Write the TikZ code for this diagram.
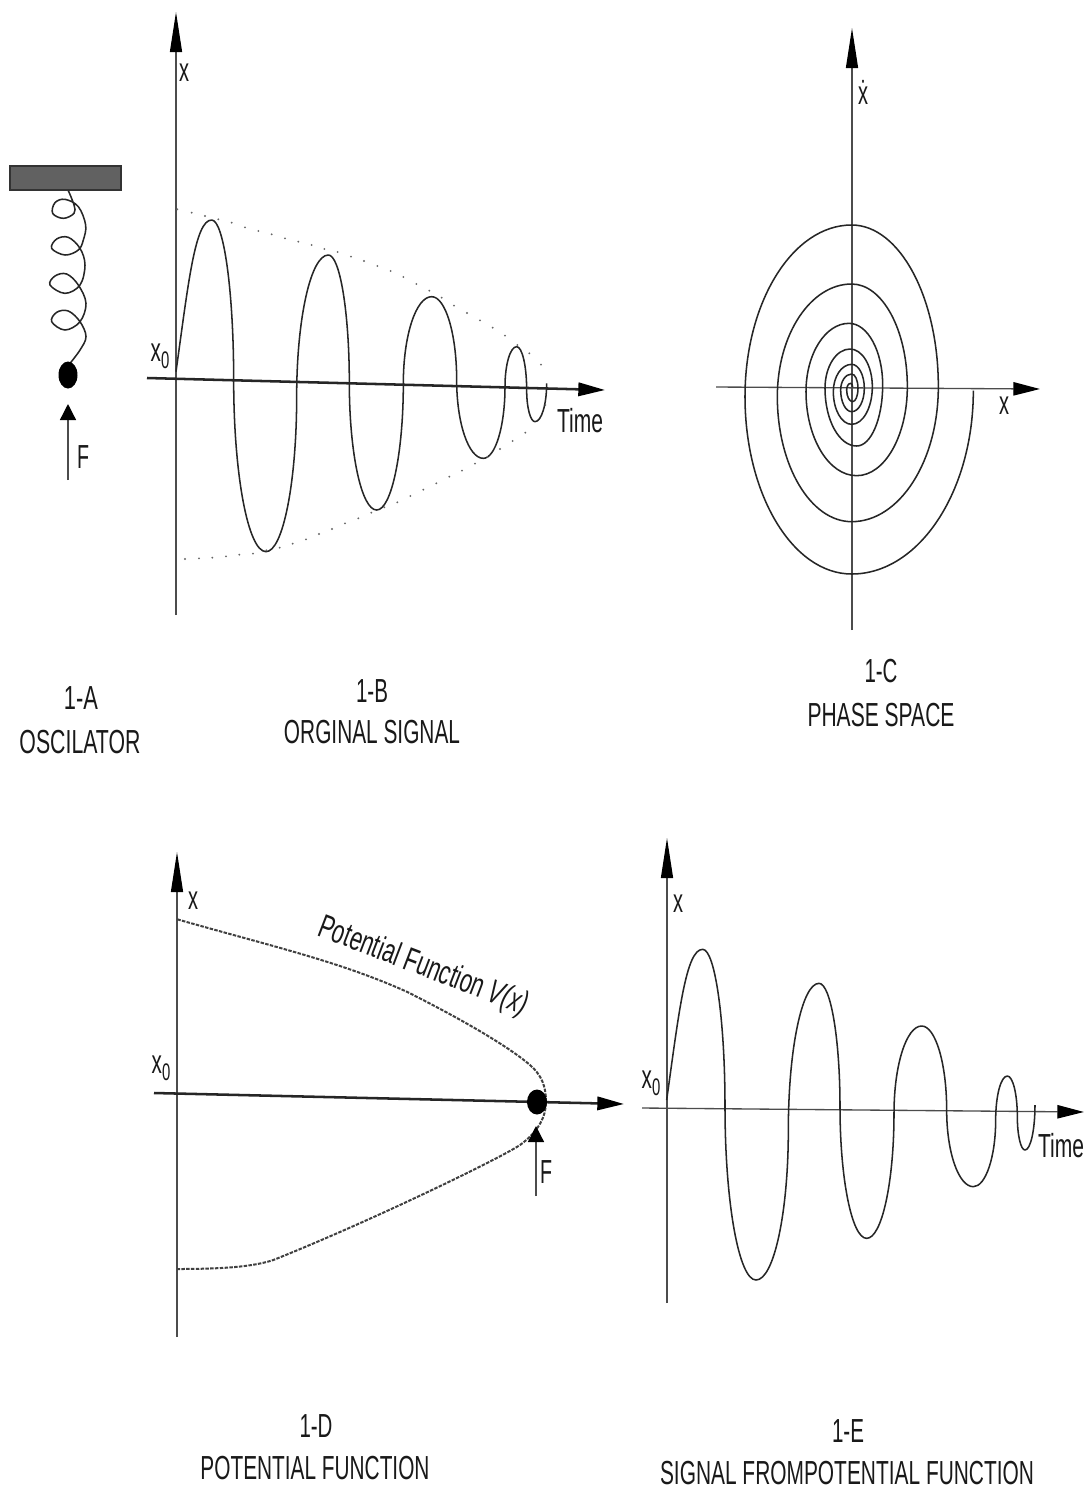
\documentclass[tikz,border=0pt]{standalone}
\usepackage{graphicx}
\usepackage{fontspec}
\setmainfont{Liberation Sans}
\usetikzlibrary{arrows.meta}
\newcommand\fitw[2]{\resizebox{\dimexpr#1pt*3/4\relax}{\height}{#2}}
\newcommand\xzero{\scalebox{.62}[1]{x}\raisebox{-5.5pt}{\fontsize{18}{18}\selectfont\scalebox{.62}[1]{0}}}
\newcommand\qa[4]{arc[start angle=#1,delta angle=#2,x radius=#3,y radius=#4]}
\tikzset{
  lbl/.style={inner sep=0pt,font=\fontsize{25}{25}\selectfont,text=black!90},
  curvepath/.style={draw=black!85,line width=1.15pt,line join=round},
  thinaxis/.style={draw=black!70,line width=1.0pt},
  thickaxis/.style={draw=black!85,line width=1.9pt},
  tipv/.style={-{Triangle[length=30pt,width=9pt,black]}},
  tiph/.style={-{Triangle[length=20pt,width=10pt,black]}},
  tipf/.style={-{Triangle[length=12pt,width=12pt,black]}},
  potcurve/.style={draw=black!75,line width=1.5pt,dash pattern=on 2.6pt off 1pt},
  envdot/.style={fill=black!60},
  ball/.style={fill=black,draw=none},
  zoomed/.style={x=.25pt,y=-.25pt}
}
\begin{document}
\begin{tikzpicture}[x=.75pt,y=-.75pt]
\useasboundingbox (0,0) rectangle (1091,1490);
\fill[white] (0,0) rectangle (1091,1490);

% ---- 1-A oscillator
\fill[black!62,draw=black!80,line width=.9pt] (10,166) rectangle (121,190);
\begin{scope}[shift={(0,150)},zoomed]
\draw[curvepath] plot[smooth,tension=.6] coordinates {(205,122)(222,165)(222,190)(190,205)(158,190)(165,158)(195,148)(235,170)(257,225)(250,270)(235,300)(195,315)(155,295)(170,267)(205,262)(240,295)(255,345)(240,405)(195,430)(150,405)(165,378)(200,372)(235,405)(258,460)(240,515)(195,540)(155,515)(170,487)(205,483)(240,515)(258,560)(240,600)(210,640)};
\end{scope}
\fill[ball] (68,375) ellipse (9.5 and 13.5);
\coordinate (fa1) at (68,480); \coordinate (fa2) at (68,404);
\draw[thinaxis,tipf] (fa1) -- (fa2);
\node[lbl] (fA) at (83,457) {\fitw{12}{F}};

% ---- 1-B signal
\coordinate (by1) at (176,615); \coordinate (by2) at (176,12);
\draw[thinaxis,tipv] (by1) -- (by2);
\coordinate (bx1) at (147,378); \coordinate (bx2) at (605,390);
\draw[thickaxis,tiph] (bx1) -- (bx2);
\begin{scope}[shift={(140,190)},zoomed]
\draw[curvepath] (108,545) .. controls (145,280) and (165,90) .. (215,90)
 \qa{270}{90}{66}{480} \qa{180}{-90}{97}{515} \qa{90}{-90}{92}{465} \qa{180}{90}{95}{425}
 \qa{270}{90}{63}{385} \qa{180}{-90}{82}{380} \qa{90}{-90}{80}{380} \qa{180}{90}{85}{260}
 \qa{270}{90}{75}{250} \qa{180}{-90}{80}{235} \qa{90}{-90}{65}{215} \qa{180}{90}{35}{120}
 \qa{270}{90}{30}{130} \qa{180}{-90}{25}{95} \qa{90}{-90}{35}{115};
\foreach \p in {(112,58),(155,68),(195,78),(235,88),(275,98),(315,112),(355,123),(395,133),(435,145),(475,155),(515,165),(553,177),(593,186),(633,200),(672,213),(712,228),(752,243),(790,261),(829,282),(868,302),(905,323),(942,347),(981,369),(1020,391),(1058,413),(1095,437),(1132,465),(1168,490),(1203,524),(135,1107),(177,1105),(217,1103),(258,1099),(298,1094),(339,1091),(379,1081),(419,1073),(458,1061),(498,1048),(537,1032),(576,1017),(615,1000),(655,985),(694,968),(733,952),(772,937),(811,918),(850,899),(889,880),(928,860),(966,842),(1005,821),(1042,801),(1080,777),(1118,753),(1156,728),(1216,645)}
  \fill[envdot] \p circle (.8pt);
\end{scope}
\node[lbl] (bxl) at (184,73) {\fitw{10}{x}};
\node[lbl] (bx0) at (160,356) {\xzero};
\node[lbl] (bt) at (580,421) {\fitw{46}{Time}};

% ---- 1-C phase space
\coordinate (cy1) at (852,630); \coordinate (cy2) at (852,28);
\draw[thinaxis,tipv] (cy1) -- (cy2);
\coordinate (cx1) at (716,387); \coordinate (cx2) at (1040,389);
\draw[thinaxis,tiph] (cx1) -- (cx2);
\begin{scope}[shift={(700,200)},zoomed]
\draw[curvepath] (820,572)
 \qa{0}{90}{365}{550} \qa{90}{90}{320}{532} \qa{180}{90}{320}{515} \qa{270}{90}{260}{485}
 \qa{0}{90}{260}{405} \qa{90}{90}{223}{375} \qa{180}{90}{223}{338} \qa{270}{90}{167}{308}
 \qa{0}{90}{152}{267} \qa{90}{90}{152}{252} \qa{180}{90}{129}{205} \qa{270}{90}{101}{185}
 \qa{0}{90}{78}{183} \qa{90}{90}{95}{173} \qa{180}{90}{75}{118} \qa{270}{90}{67}{113}
 \qa{0}{90}{62}{113} \qa{90}{90}{55}{98} \qa{180}{90}{55}{82} \qa{270}{90}{38}{72}
 \qa{0}{90}{38}{70} \qa{90}{90}{33}{65} \qa{180}{90}{33}{48} \qa{270}{90}{19}{43}
 \qa{0}{90}{16}{40} \qa{90}{90}{18}{35} \qa{180}{90}{12}{20} \qa{270}{90}{6}{12};
\end{scope}
\node[lbl] (cxd) at (863,92) {\fitw{10}{ẋ}};
\node[lbl] (cxl) at (1004,406) {\fitw{10}{x}};

% ---- 1-D potential
\coordinate (dy1) at (177,1337); \coordinate (dy2) at (177,852);
\draw[thinaxis,tipv] (dy1) -- (dy2);
\coordinate (dx1) at (154,1093); \coordinate (dx2) at (624,1104);
\draw[thickaxis,tiph] (dx1) -- (dx2);
\begin{scope}[shift={(140,890)},zoomed]
\draw[potcurve] (112,88) .. controls (400,170) and (600,215) .. (800,305)
  .. controls (950,380) and (1100,465) .. (1170,525)
  .. controls (1205,555) and (1218,590) .. (1218,635)
  .. controls (1218,680) and (1195,725) .. (1140,765)
  .. controls (1080,805) and (700,990) .. (400,1110)
  .. controls (340,1130) and (250,1137) .. (112,1137);
\end{scope}
\fill[ball] (537,1102) ellipse (10 and 12.5);
\coordinate (fd1) at (536,1196); \coordinate (fd2) at (536,1126);
\draw[thinaxis,tipf] (fd1) -- (fd2);
\node[lbl] (dF) at (546,1172) {\fitw{12}{F}};
\node[lbl] (dxl) at (193,901) {\fitw{10}{x}};
\node[lbl] (dx0) at (161,1068) {\xzero};
\node[lbl,rotate=-21] (dpf) at (423,967) {\fitw{222}{Potential Function \textit{V(x)}}};

% ---- 1-E signal from potential
\coordinate (ey1) at (667,1303); \coordinate (ey2) at (667,838);
\draw[thinaxis,tipv] (ey1) -- (ey2);
\coordinate (ex1) at (642,1108); \coordinate (ex2) at (1084,1112);
\draw[thinaxis,tiph] (ex1) -- (ex2);
\begin{scope}[shift={(630,930)},zoomed]
\draw[curvepath] (110,510) .. controls (147,245) and (168,58) .. (218,58)
 \qa{270}{90}{67}{472} \qa{180}{-90}{93}{520} \qa{90}{-90}{97}{450} \qa{180}{90}{92}{440}
 \qa{270}{90}{63}{370} \qa{180}{-90}{80}{395} \qa{90}{-90}{82}{375} \qa{180}{90}{83}{262}
 \qa{270}{90}{75}{252} \qa{180}{-90}{80}{230} \qa{90}{-90}{67}{200} \qa{180}{90}{35}{132}
 \qa{270}{90}{30}{122} \qa{180}{-90}{23}{100} \qa{90}{-90}{30}{135};
\end{scope}
\node[lbl] (exl) at (678,904) {\fitw{10}{x}};
\node[lbl] (ex0) at (651,1083) {\xzero};
\node[lbl] (et) at (1061,1146) {\fitw{46}{Time}};

% ---- captions
\node[lbl] (a1) at (81,698) {\fitw{34}{1-A}};
\node[lbl] (a2) at (80,742) {\fitw{121}{OSCILATOR}};
\node[lbl] (b1) at (372,691) {\fitw{32}{1-B}};
\node[lbl] (b2) at (372,732) {\fitw{176}{ORGINAL SIGNAL}};
\node[lbl] (c1) at (881,671) {\fitw{33}{1-C}};
\node[lbl] (c2) at (881,715) {\fitw{147}{PHASE SPACE}};
\node[lbl] (d1) at (316,1426) {\fitw{33}{1-D}};
\node[lbl] (d2) at (315,1468) {\fitw{229}{POTENTIAL FUNCTION}};
\node[lbl] (e1) at (848,1431) {\fitw{32}{1-E}};
\node[lbl] (e2) at (847,1473) {\fitw{374}{SIGNAL FROMPOTENTIAL FUNCTION}};
\end{tikzpicture}
\end{document}
